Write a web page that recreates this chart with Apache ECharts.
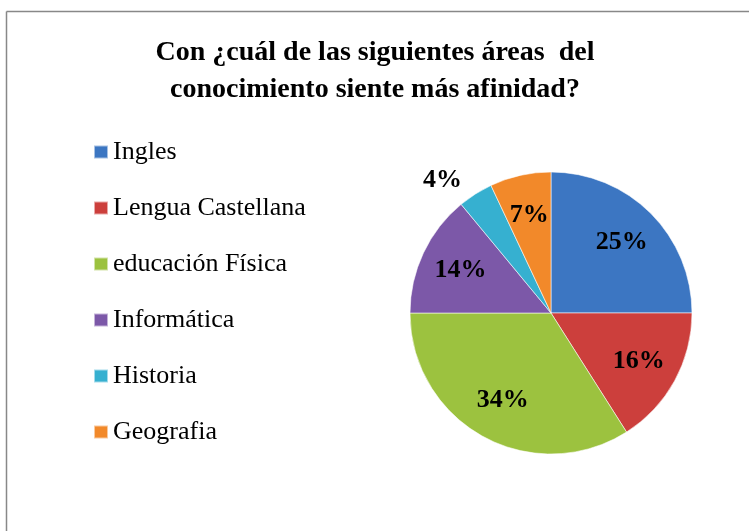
<!DOCTYPE html>
<html>
<head>
<meta charset="utf-8">
<script src="https://cdn.jsdelivr.net/npm/echarts@6/dist/echarts.min.js"></script>
<style>
  html, body { margin: 0; padding: 0; background: #fff; }
  #chart { width: 749px; height: 531px; }
</style>
</head>
<body>
<div id="chart"></div>
<script>
var chart = echarts.init(document.getElementById('chart'), null, { renderer: 'canvas' });

// datos
var areas = ['Ingles', 'Lengua Castellana', 'educación Física', 'Informática', 'Historia', 'Geografia'];
var porcentajes = [25, 16, 34, 14, 4, 7];
var colores = ['#3C76C2', '#CC3F3C', '#9CC23F', '#7C58A8', '#36B0D0', '#F2892A'];

var serif = '"Liberation Serif", "Times New Roman", serif';

var pieData = areas.map(function (name, i) {
  var item = {
    name: name,
    value: porcentajes[i],
    itemStyle: { color: colores[i] }
  };
  if (name === 'Historia') {
    item.label = { show: true, position: 'outside' };
    item.labelLine = { show: false, length: 16, length2: 0 };
  }
  return item;
});

// serie solo para etiquetas (interior, mas hacia afuera que el centro del radio)
var labelData = areas.map(function (name, i) {
  return {
    name: name,
    value: porcentajes[i],
    label: { show: name !== 'Historia' }
  };
});

var option = {
  animation: false,
  title: {
    text: 'Con ¿cuál de las siguientes áreas  del\nconocimiento siente más afinidad?',
    left: 370,
    textAlign: 'center',
    top: 29,
    textStyle: {
      fontFamily: serif,
      fontSize: 28,
      fontWeight: 'bold',
      color: '#000',
      lineHeight: 37
    }
  },
  legend: {
    orient: 'vertical',
    left: 88,
    top: 134,
    icon: 'rect',
    itemWidth: 14,
    itemHeight: 13,
    itemGap: 30,
    textStyle: {
      fontFamily: serif,
      fontSize: 26,
      color: '#000',
      lineHeight: 26
    },
    data: areas
  },
  graphic: [
    { type: 'line', shape: { x1: 6.5, y1: 11.5, x2: 749, y2: 11.5 }, style: { stroke: '#888', lineWidth: 1.5 } },
    { type: 'line', shape: { x1: 6.5, y1: 11.5, x2: 6.5, y2: 531 }, style: { stroke: '#888', lineWidth: 1.5 } }
  ],
  series: [
    {
      type: 'pie',
      center: [551, 313],
      radius: [0, 141],
      startAngle: 90,
      clockwise: true,
      data: pieData,
      itemStyle: { borderColor: 'rgba(255,255,255,0.55)', borderWidth: 1 },
      label: {
        show: false,
        formatter: '{c}%',
        fontFamily: serif,
        fontSize: 26,
        fontWeight: 'bold',
        color: '#000'
      },
      emphasis: { disabled: true }
    },
    {
      type: 'pie',
      center: [551, 313],
      radius: [0, 194],
      startAngle: 90,
      clockwise: true,
      silent: true,
      data: labelData,
      itemStyle: { color: 'rgba(0,0,0,0)' },
      label: {
        position: 'inside',
        formatter: '{c}%',
        fontFamily: serif,
        fontSize: 26,
        fontWeight: 'bold',
        color: '#000'
      },
      labelLine: { show: false },
      emphasis: { disabled: true }
    }
  ]
};

chart.setOption(option);
window.addEventListener('resize', chart.resize);
</script>
</body>
</html>
